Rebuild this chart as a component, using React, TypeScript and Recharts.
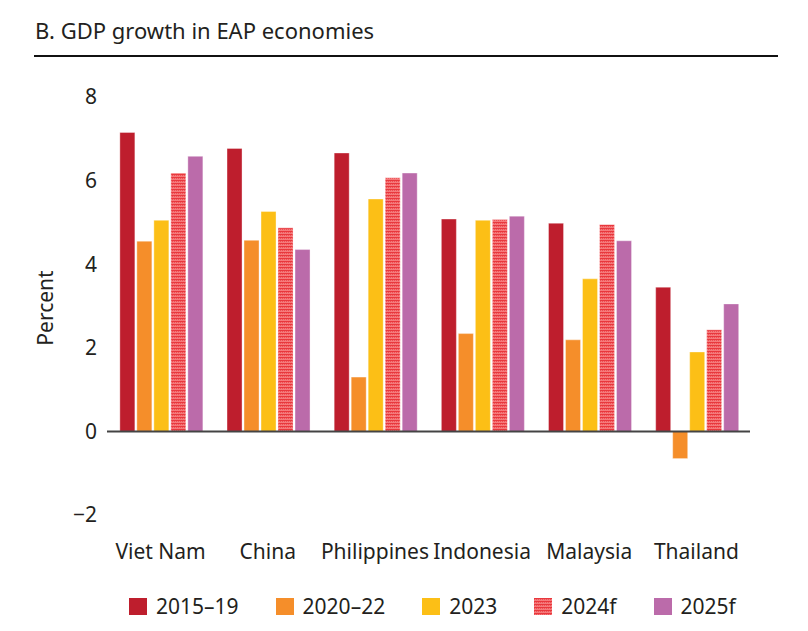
import React from 'react';
import { BarChart, Bar, XAxis, YAxis, ReferenceLine } from 'recharts';

const categories = ['Viet Nam', 'China', 'Philippines', 'Indonesia', 'Malaysia', 'Thailand'];
const s2015_19 = [7.15, 6.77, 6.66, 5.08, 4.98, 3.45];
const s2020_22 = [4.55, 4.57, 1.3, 2.34, 2.19, -0.65];
const s2023 = [5.05, 5.26, 5.56, 5.05, 3.65, 1.9];
const s2024f = [6.18, 4.87, 6.07, 5.07, 4.95, 2.43];
const s2025f = [6.58, 4.35, 6.18, 5.15, 4.56, 3.05];
const yTicks = [-2, 0, 2, 4, 6, 8];

const seriesInfo = [
  { key: 's2015_19', name: '2015–19', fill: '#BE1E2D' },
  { key: 's2020_22', name: '2020–22', fill: '#F58E2A' },
  { key: 's2023', name: '2023', fill: '#FCBF16' },
  { key: 's2024f', name: '2024f', fill: 'url(#hatch2024)' },
  { key: 's2025f', name: '2025f', fill: '#BB6BAA' },
];

const data = categories.map((c, i) => ({
  name: c,
  s2015_19: s2015_19[i],
  s2020_22: s2020_22[i],
  s2023: s2023[i],
  s2024f: s2024f[i],
  s2025f: s2025f[i],
}));

const FONT = '"Noto Sans", "Open Sans", sans-serif';
const TXT = '#231F20';

export default function App() {
  return (
    <div style={{ position: 'absolute', left: 0, top: 0, width: 808, height: 631, background: '#fff', fontFamily: FONT }}>
      <svg width={0} height={0} style={{ position: 'absolute' }}>
        <defs>
          <pattern id="hatch2024" patternUnits="userSpaceOnUse" width={2} height={3}>
            <rect x={0} y={0} width={2} height={3} fill="#F57A7B" />
            <rect x={0} y={0} width={2} height={1} fill="#E8383D" />
            <rect x={0} y={1} width={1} height={1} fill="#EE5055" />
          </pattern>
        </defs>
      </svg>
      <div style={{ position: 'absolute', left: 35, top: 19, fontSize: 22, lineHeight: '22px', color: TXT, whiteSpace: 'nowrap' }}>
        B. GDP growth in EAP economies
      </div>
      <div style={{ position: 'absolute', left: 34, top: 55, width: 744, height: 2, background: '#111' }} />
      <div
        style={{
          position: 'absolute',
          left: 45,
          top: 308,
          transform: 'translate(-50%, -50%) rotate(-90deg)',
          fontSize: 21,
          lineHeight: '21px',
          color: TXT,
          whiteSpace: 'nowrap',
        }}
      >
        Percent
      </div>
      <div style={{ position: 'absolute', left: 0, top: 0 }}>
        <BarChart
          width={808}
          height={631}
          data={data}
          margin={{ top: 97, right: 58, bottom: 86, left: 47 }}
          barCategoryGap="12%"
          barGap={2}
        >
          <XAxis
            dataKey="name"
            height={30}
            axisLine={false}
            tickLine={false}
            tickSize={0}
            tickMargin={29}
            interval={0}
            tick={{ fontSize: 21, fill: TXT, fontFamily: FONT }}
          />
          <YAxis
            width={60}
            domain={[-2, 8]}
            ticks={yTicks}
            axisLine={false}
            tickLine={false}
            tickSize={0}
            tickMargin={10}
            tickFormatter={(v: number) => String(v).replace('-', '\u2212')}
            tick={{ fontSize: 21, fill: TXT, fontFamily: FONT }}
          />
          {seriesInfo.map((s) => (
            <Bar
              key={s.key}
              dataKey={s.key}
              name={s.name}
              fill={s.fill}
              stroke="#ffffff"
              strokeOpacity={0.35}
              strokeWidth={1}
              isAnimationActive={false}
            />
          ))}
          <ReferenceLine y={0} stroke="#444" strokeWidth={2} />
        </BarChart>
      </div>
      <div
        style={{
          position: 'absolute',
          left: 129,
          top: 594,
          display: 'flex',
          alignItems: 'center',
          fontSize: 21,
          lineHeight: '24px',
          color: TXT,
          whiteSpace: 'nowrap',
        }}
      >
        {seriesInfo.map((s) => (
          <div key={s.key} style={{ display: 'flex', alignItems: 'center', marginRight: 37 }}>
            <svg width={18} height={17} style={{ marginRight: 9 }}>
              <rect x={0} y={0} width={18} height={17} fill={s.fill} />
            </svg>
            <span>{s.name}</span>
          </div>
        ))}
      </div>
    </div>
  );
}
